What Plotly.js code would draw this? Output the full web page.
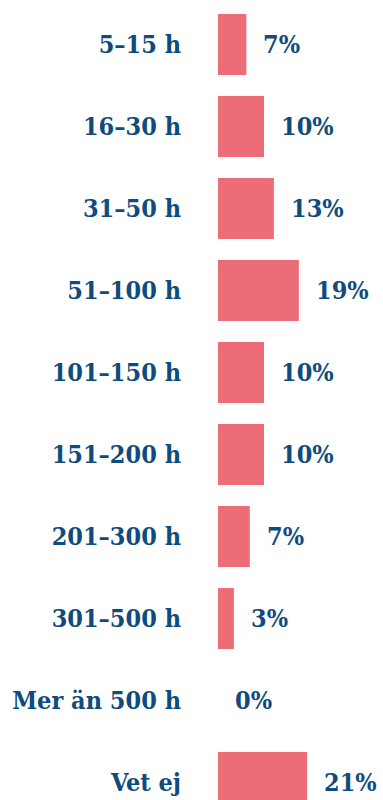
<!DOCTYPE html>
<html>
<head>
<meta charset="utf-8">
<script src="https://cdn.plot.ly/plotly-3.0.1.min.js"></script>
<style>html,body{margin:0;padding:0;background:#fff;}#chart{width:383px;height:800px;}</style>
</head>
<body>
<div id="chart"></div>
<script>
const categories = ["5–15 h","16–30 h","31–50 h","51–100 h","101–150 h","151–200 h","201–300 h","301–500 h","Mer än 500 h","Vet ej"];
const values = [6.6, 10.7, 13.0, 18.8, 10.7, 10.7, 7.4, 3.7, 0, 20.7];
const valueLabels = ["7%","10%","13%","19%","10%","10%","7%","3%","0%","21%"];

const FONT = "'DejaVu Serif Condensed', 'DejaVu Serif', serif";
const BLUE = "#0e4c7d";
const RED = "#ec6d78";

const trace = {
  type: "bar",
  orientation: "h",
  x: values,
  y: categories,
  marker: {color: RED},
  hoverinfo: "skip"
};

const annotations = categories.map((c, i) => ({
  x: values[i], y: c, xref: "x", yref: "y",
  text: valueLabels[i], showarrow: false,
  xanchor: "left", xshift: 15,
  font: {family: FONT, size: 25, color: BLUE, weight: 700}
}));

const layout = {
  width: 383, height: 800,
  margin: {l: 218, r: 0, t: 0, b: 0},
  paper_bgcolor: "#fff", plot_bgcolor: "#fff",
  bargap: 0.256,
  showlegend: false,
  xaxis: {range: [0, 38.37], visible: false, fixedrange: true},
  yaxis: {
    type: "category",
    range: [9.213, -0.543],
    showgrid: false, zeroline: false, showline: false, ticks: "",
    ticklabelstandoff: 36,
    tickfont: {family: FONT, size: 25, color: BLUE, weight: 700}
  },
  annotations: annotations
};

Plotly.newPlot("chart", [trace], layout, {displayModeBar: false, staticPlot: true});
</script>
</body>
</html>
